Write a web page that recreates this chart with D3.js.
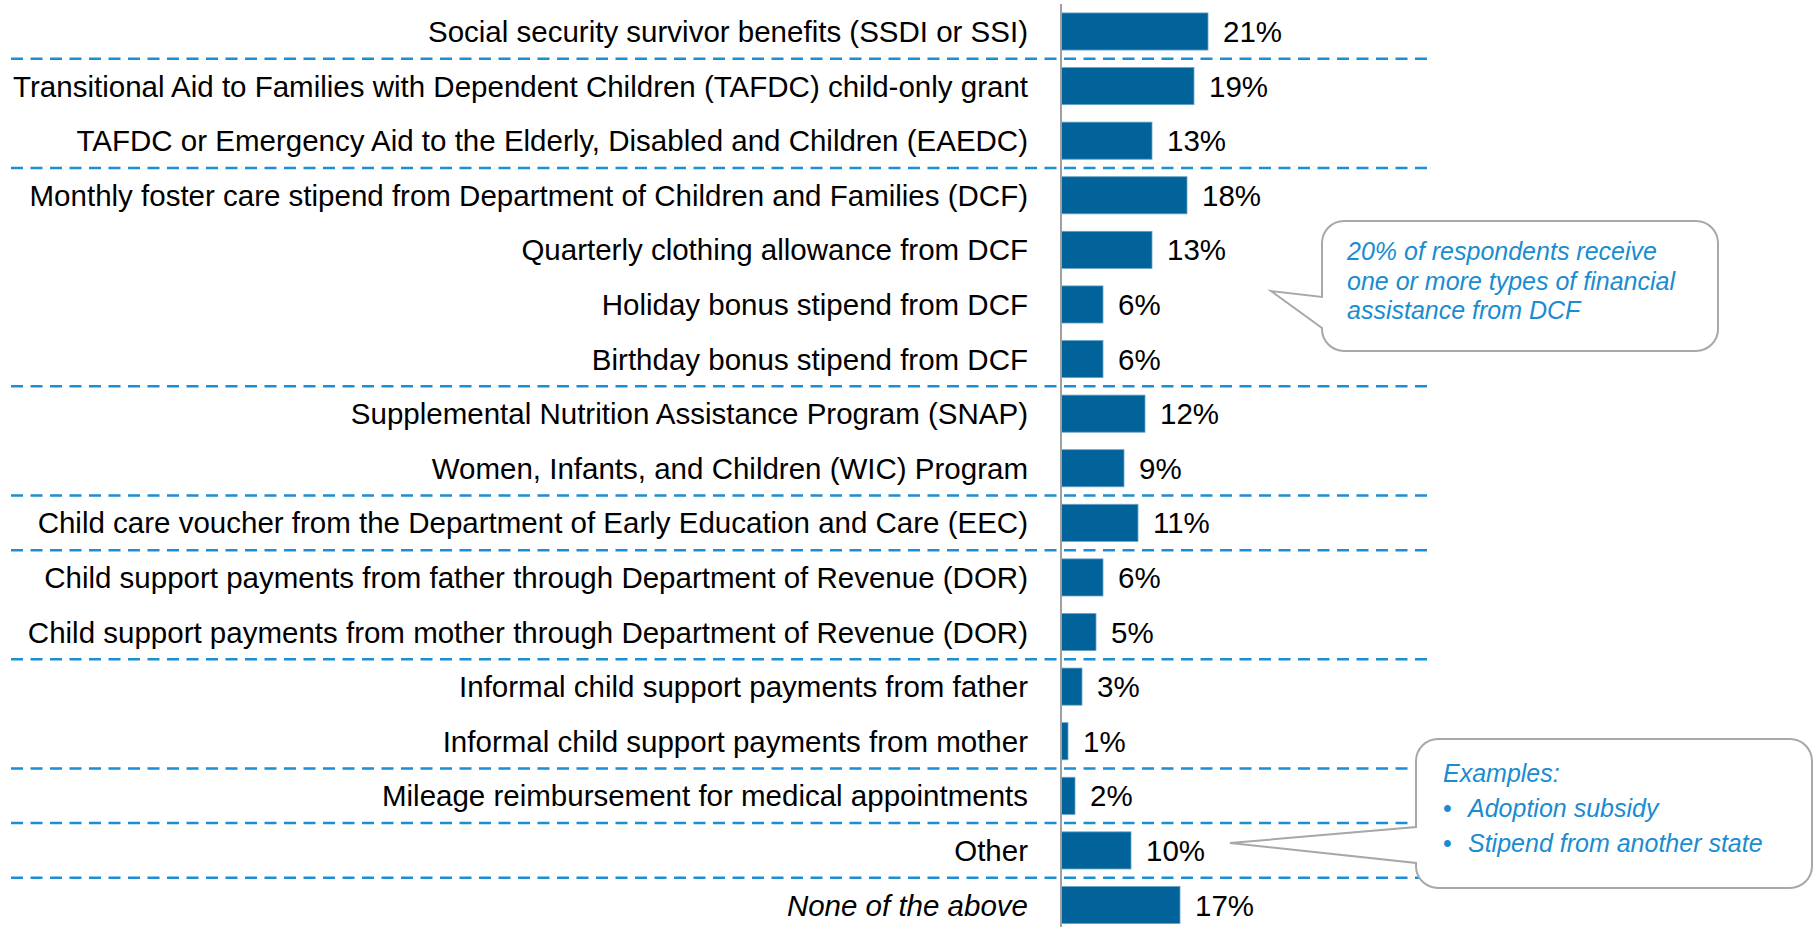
<!DOCTYPE html>
<html>
<head>
<meta charset="utf-8">
<script src="https://cdn.jsdelivr.net/npm/d3@7"></script>
<style>
  body { margin: 0; background: #fff; }
  svg { display: block; font-family: "Liberation Sans", Arial, sans-serif; }
</style>
</head>
<body>
<svg id="mainsvg" width="1814" height="927"></svg>
<script>
// data
const categories = [
  'Social security survivor benefits (SSDI or SSI)',
  'Transitional Aid to Families with Dependent Children (TAFDC) child-only grant',
  'TAFDC or Emergency Aid to the Elderly, Disabled and Children (EAEDC)',
  'Monthly foster care stipend from Department of Children and Families (DCF)',
  'Quarterly clothing allowance from DCF',
  'Holiday bonus stipend from DCF',
  'Birthday bonus stipend from DCF',
  'Supplemental Nutrition Assistance Program (SNAP)',
  'Women, Infants, and Children (WIC) Program',
  'Child care voucher from the Department of Early Education and Care (EEC)',
  'Child support payments from father through Department of Revenue (DOR)',
  'Child support payments from mother through Department of Revenue (DOR)',
  'Informal child support payments from father',
  'Informal child support payments from mother',
  'Mileage reimbursement for medical appointments',
  'Other',
  'None of the above'
];
const values = [21, 19, 13, 18, 13, 6, 6, 12, 9, 11, 6, 5, 3, 1, 2, 10, 17];
// a dashed line is drawn below each of these rows
const groupEnds = [
  'Social security survivor benefits (SSDI or SSI)',
  'TAFDC or Emergency Aid to the Elderly, Disabled and Children (EAEDC)',
  'Birthday bonus stipend from DCF',
  'Women, Infants, and Children (WIC) Program',
  'Child care voucher from the Department of Early Education and Care (EEC)',
  'Child support payments from mother through Department of Revenue (DOR)',
  'Informal child support payments from mother',
  'Mileage reimbursement for medical appointments',
  'Other'
];
const italicRows = ['None of the above'];
const noteDcf = ['20% of respondents receive', 'one or more types of financial', 'assistance from DCF'];
const noteOtherTitle = 'Examples:';
const noteOtherItems = ['Adoption subsidy', 'Stipend from another state'];

const svg = d3.select('#mainsvg');
const axisX = 1061;
const barColor = '#02639a';
const dashColor = '#1c8ed3';
const noteColor = '#1a8cd0';

const xScale = d3.scaleLinear().domain([0, 21]).range([axisX, axisX + 147]);
const yScale = d3.scaleBand().domain(categories).range([4.2, 932.3])
  .paddingInner(0.32).paddingOuter(0.16);
const step = yScale.step();

// dashed group separators
svg.append('g').selectAll('line').data(groupEnds).enter().append('line')
  .attr('x1', 11).attr('x2', 1432)
  .attr('y1', d => yScale(d) + yScale.bandwidth() + step * 0.16)
  .attr('y2', d => yScale(d) + yScale.bandwidth() + step * 0.16)
  .attr('stroke', dashColor)
  .attr('stroke-width', 2.5)
  .attr('stroke-dasharray', '12,7.5');

// bars
svg.append('g').selectAll('rect').data(categories).enter().append('rect')
  .attr('x', axisX)
  .attr('y', d => yScale(d))
  .attr('width', (d, i) => xScale(values[i]) - axisX)
  .attr('height', yScale.bandwidth())
  .attr('fill', barColor)
  .attr('stroke', '#6aa3c8')
  .attr('stroke-width', 0.8);

// value labels
svg.append('g').selectAll('text').data(categories).enter().append('text')
  .attr('x', (d, i) => xScale(values[i]) + 15)
  .attr('y', d => yScale(d) + yScale.bandwidth() / 2)
  .attr('dy', '0.36em')
  .style('font-size', '29.5px')
  .attr('fill', '#000')
  .text((d, i) => values[i] + '%');

// category labels
svg.append('g').selectAll('text').data(categories).enter().append('text')
  .attr('x', 1028)
  .attr('y', d => yScale(d) + yScale.bandwidth() / 2)
  .attr('dy', '0.36em')
  .attr('text-anchor', 'end')
  .style('font-size', '29.5px')
  .style('font-style', d => italicRows.includes(d) ? 'italic' : 'normal')
  .attr('fill', '#000')
  .text(d => d);

// vertical axis line
svg.append('line')
  .attr('x1', axisX).attr('x2', axisX)
  .attr('y1', 4).attr('y2', 927)
  .attr('stroke', '#a0a0a0')
  .attr('stroke-width', 2);

// callout shape: rounded box with a pointer on the left side
function calloutPath(x, y, w, h, r, tailA, tailB, tip) {
  const p = d3.path();
  p.moveTo(x + r, y);
  p.lineTo(x + w - r, y);
  p.arcTo(x + w, y, x + w, y + r, r);
  p.lineTo(x + w, y + h - r);
  p.arcTo(x + w, y + h, x + w - r, y + h, r);
  p.lineTo(x + r, y + h);
  p.arcTo(x, y + h, x, y + h - r, r);
  p.lineTo(x, tailB);
  p.lineTo(tip[0], tip[1]);
  p.lineTo(x, tailA);
  p.lineTo(x, y + r);
  p.arcTo(x, y, x + r, y, r);
  p.closePath();
  return p.toString();
}

svg.append('path')
  .attr('d', calloutPath(1322, 221, 396, 130, 22, 297, 328, [1271, 291]))
  .attr('fill', '#fff')
  .attr('stroke', '#a8a8a8')
  .attr('stroke-width', 2);

svg.append('g').selectAll('text').data(noteDcf).enter().append('text')
  .attr('x', 1347)
  .attr('y', (d, i) => 260 + i * 29.5)
  .style('font-size', '25px')
  .style('font-style', 'italic')
  .attr('fill', noteColor)
  .text(d => d);

svg.append('path')
  .attr('d', calloutPath(1416, 739, 396, 149, 22, 827, 863, [1230, 843]))
  .attr('fill', '#fff')
  .attr('stroke', '#a8a8a8')
  .attr('stroke-width', 2);

svg.append('text')
  .attr('x', 1443).attr('y', 782)
  .style('font-size', '25px')
  .style('font-style', 'italic')
  .attr('fill', noteColor)
  .text(noteOtherTitle);

const items = svg.append('g').selectAll('g').data(noteOtherItems).enter().append('g')
  .attr('transform', (d, i) => `translate(0, ${817 + i * 35})`);
items.append('text')
  .attr('x', 1443)
  .style('font-size', '25px')
  .attr('fill', noteColor)
  .text('•');
items.append('text')
  .attr('x', 1468)
  .style('font-size', '25px')
  .style('font-style', 'italic')
  .attr('fill', noteColor)
  .text(d => d);
</script>
</body>
</html>
